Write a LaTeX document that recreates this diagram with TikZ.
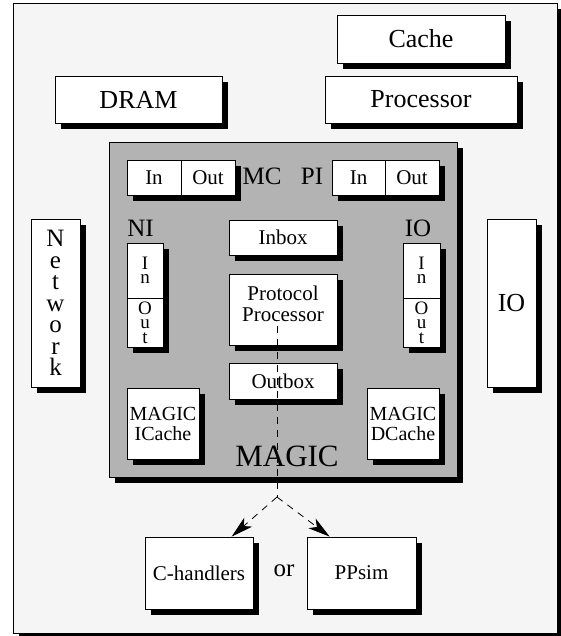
\documentclass[tikz,border=0pt]{standalone}
\usepackage{fontspec}
\setmainfont{Liberation Serif}
\usetikzlibrary{arrows.meta,positioning,shadows,calc}
\definecolor{framegray}{RGB}{245,245,245}
\definecolor{magicgray}{RGB}{179,179,179}

\begin{document}
\begin{tikzpicture}[x=1pt, y=-1pt,
    box/.style={rectangle, draw=black, fill=white, line width=0.8pt, inner sep=0pt,
        drop shadow={shadow xshift=6pt, shadow yshift=-6pt, fill=black, opacity=1}},
    big/.style={font=\fontsize{26}{28}\selectfont},
    small/.style={font=\fontsize{21}{21}\selectfont},
    col/.style={box, align=center, font=\fontsize{19}{14.5}\selectfont},
    tag/.style={inner sep=0pt, font=\fontsize{25}{25}\selectfont},
    dline/.style={dash pattern=on 7pt off 6pt, line width=0.8pt},
    arr/.style={dline, -{Stealth[length=22pt, width=12pt, inset=6pt]}}
]
\useasboundingbox (0,0) rectangle (561,636);
\node[box, fill=framegray, minimum width=544pt, minimum height=630pt] (frame) at (285,318) {};

% outside the chip
\node[box, big, minimum width=168pt, minimum height=48pt] (cache) at (421,39) {Cache};
\node[box, big, minimum width=167pt, minimum height=47pt] (dram) at (138.5,99.5) {DRAM};
\node[box, big, minimum width=192pt, minimum height=47pt] (proc) at (421,99.5) {Processor};
\node[box, align=center, minimum width=49pt, minimum height=168pt,
    font=\fontsize{25}{21.5}\selectfont] (net) at (55.5,303) {N\\e\\t\\w\\o\\r\\k};
\node[box, big, minimum width=49pt, minimum height=168pt] (io) at (511.5,303) {IO};

% MAGIC
\node[box, fill=magicgray, minimum width=348pt, minimum height=335pt] (magic) at (283,309.5) {};
\node[tag, font=\fontsize{31}{31}\selectfont] (magiclbl) at (287,456) {MAGIC};

\node[box, small, minimum width=54pt, minimum height=35pt] (mcin) at (154,177.5) {In};
\node[box, small, minimum width=54pt, minimum height=35pt] (mcout) at (208,177.5) {Out};
\node[tag] (mc) at (262,176) {MC};
\node[tag] (pi) at (312,176) {PI};
\node[box, small, minimum width=53pt, minimum height=35pt] (piin) at (358.5,177.5) {In};
\node[box, small, minimum width=54pt, minimum height=35pt] (piout) at (412,177.5) {Out};

\node[tag] (ni) at (140.5,228) {NI};
\node[col, minimum width=36pt, minimum height=55pt] (niin) at (145,270.5) {I\\n};
\node[col, minimum width=36pt, minimum height=49pt] (niout) at (145,322.5) {O\\u\\t};
\node[tag] (iolbl) at (418,228) {IO};
\node[col, minimum width=37pt, minimum height=55pt] (ioin) at (421.5,270.5) {I\\n};
\node[col, minimum width=37pt, minimum height=49pt] (ioout) at (421.5,322.5) {O\\u\\t};

\node[box, small, minimum width=108pt, minimum height=35pt] (inbox) at (283,237.5) {Inbox};
\node[box, small, align=center, minimum width=108pt, minimum height=71pt,
    text depth=11pt] (pp) at (283,309.5) {Protocol\\Processor};
\node[box, small, minimum width=108pt, minimum height=36pt] (outbox) at (283,381) {Outbox};
\node[box, small, align=center, minimum width=72pt, minimum height=71pt,
    font=\fontsize{20}{20}\selectfont] (icache) at (163,423.5) {MAGIC\\ICache};
\node[box, small, align=center, minimum width=72pt, minimum height=71pt,
    font=\fontsize{20}{20}\selectfont] (dcache) at (403,423.5) {MAGIC\\DCache};

% simulators
\node[box, small, minimum width=108pt, minimum height=72pt] (chand) at (199,573) {C-handlers};
\node[box, small, minimum width=109pt, minimum height=72pt] (ppsim) at (361.5,573) {PPsim};
\node[tag] (or) at (284,571) {or};

\coordinate (ppstart) at (277,326);
\coordinate (fork) at (277,497);
\draw[dline] (ppstart) -- (fork);
\draw[arr] (fork) -- ($(chand.north west)!0.8!(chand.north east)$);
\draw[arr] (fork) -- ($(ppsim.north west)!0.21!(ppsim.north east)$);
\end{tikzpicture}
\end{document}
